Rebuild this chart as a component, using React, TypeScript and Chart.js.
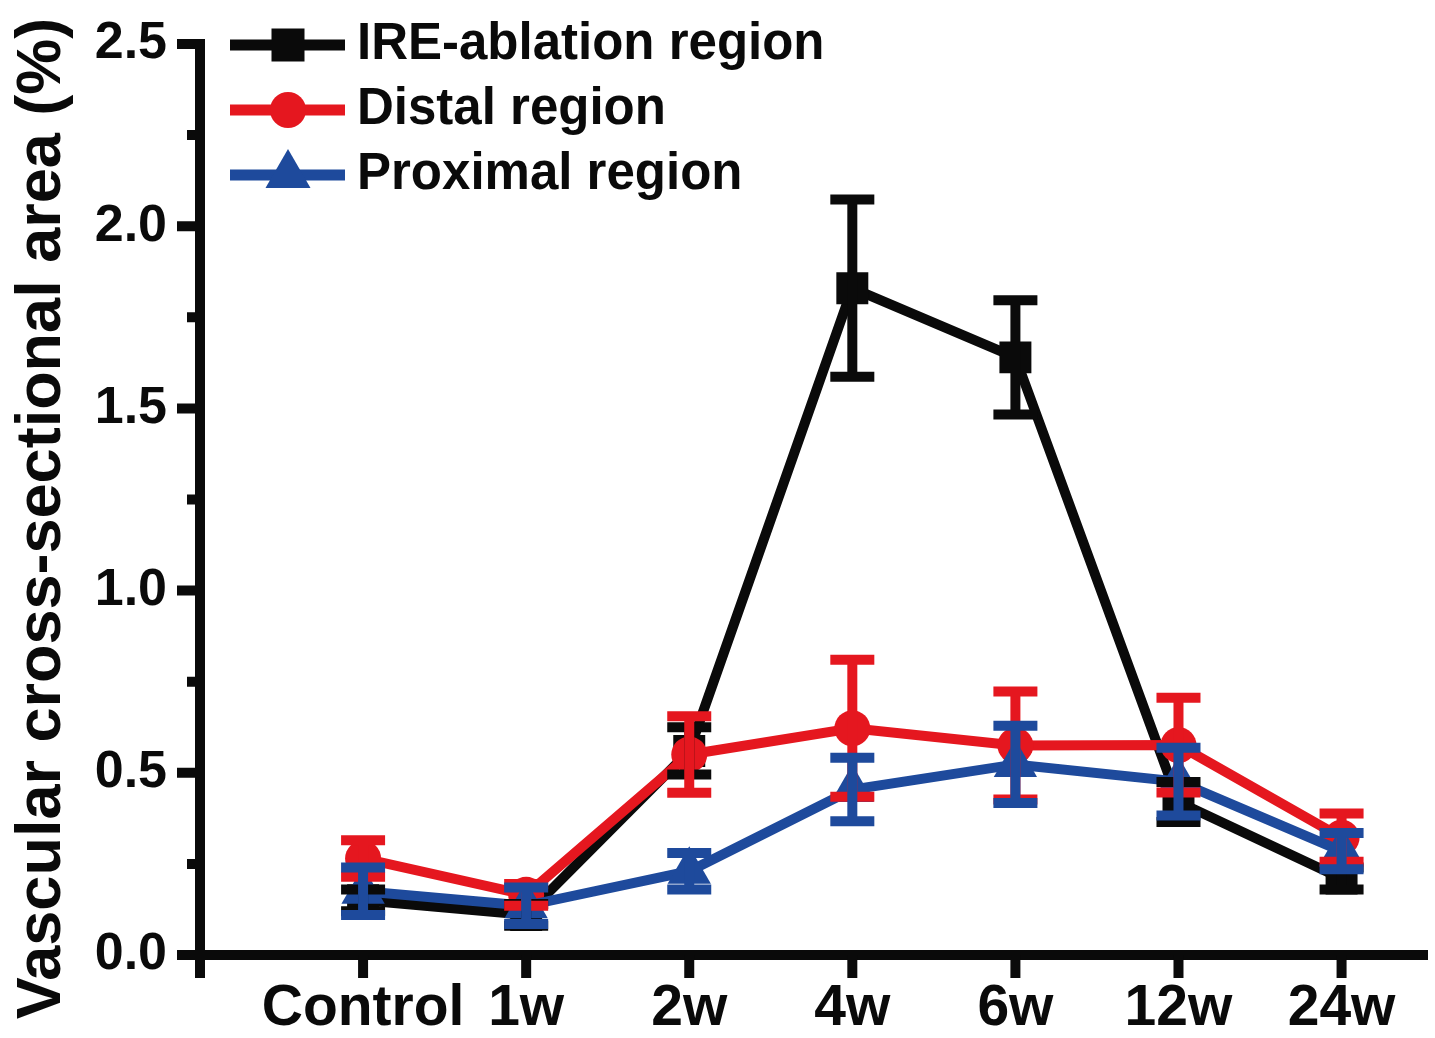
import React, { useEffect, useRef } from 'react';
import { Chart, registerables } from 'chart.js';

Chart.register(...registerables);

// ---------- data ----------
const categories = ['Control', '1w', '2w', '4w', '6w', '12w', '24w'];
const xTickLabels = ['', ...categories];

const seriesLabels = ['IRE-ablation region', 'Distal region', 'Proximal region'];

const ireValues = [0.15, 0.11, 0.56, 1.83, 1.64, 0.42, 0.21];
const ireErrors = [0.03, 0.03, 0.065, 0.243, 0.157, 0.055, 0.03];

const distalValues = [0.265, 0.165, 0.55, 0.622, 0.575, 0.576, 0.322];
const distalErrors = [0.05, 0.03, 0.105, 0.188, 0.148, 0.13, 0.066];

const proximalValues = [0.175, 0.135, 0.23, 0.454, 0.523, 0.476, 0.285];
const proximalErrors = [0.065, 0.05, 0.05, 0.087, 0.106, 0.093, 0.05];

const yMajorTicks = [0, 0.5, 1.0, 1.5, 2.0, 2.5];
const yMinorTicks = [0.25, 0.75, 1.25, 1.75, 2.25];
const yTitle = 'Vascular cross-sectional area (%)';

// ---------- styles ----------
const FONT = '"Liberation Sans", Arial, Helvetica, sans-serif';
const BLACK = '#0a0a0a';
const RED = '#e5171f';
const BLUE = '#1e4a9c';
const AXIS_W = 10;

function drawMarker(ctx: CanvasRenderingContext2D, style: string, x: number, y: number, color: string) {
  ctx.fillStyle = color;
  ctx.beginPath();
  if (style === 'rect') {
    ctx.rect(x - 16.5, y - 16.5, 33, 33);
  } else if (style === 'circle') {
    ctx.arc(x, y, 18, 0, Math.PI * 2);
  } else {
    const r = 26;
    ctx.moveTo(x, y - r);
    ctx.lineTo(x + r * Math.sin((2 * Math.PI) / 3), y - r * Math.cos((2 * Math.PI) / 3));
    ctx.lineTo(x + r * Math.sin((4 * Math.PI) / 3), y - r * Math.cos((4 * Math.PI) / 3));
    ctx.closePath();
  }
  ctx.fill();
}

const overlayPlugin = {
  id: 'overlay',
  afterDatasetsDraw(chart: any) {
    const { ctx } = chart;
    const xs = chart.scales.x;
    const ys = chart.scales.y;
    ctx.save();
    ctx.lineCap = 'butt';
    chart.data.datasets.forEach((ds: any) => {
      ctx.strokeStyle = ds.borderColor;
      ctx.lineWidth = 10;
      ds.data.forEach((p: any, i: number) => {
        const e = ds.errors[i];
        const px = xs.getPixelForValue(p.x);
        const top = ys.getPixelForValue(p.y + e);
        const bot = ys.getPixelForValue(p.y - e);
        ctx.beginPath();
        ctx.moveTo(px, top - 5);
        ctx.lineTo(px, bot + 5);
        ctx.moveTo(px - 22, top);
        ctx.lineTo(px + 22, top);
        ctx.moveTo(px - 22, bot);
        ctx.lineTo(px + 22, bot);
        ctx.stroke();
      });
    });
    ctx.restore();
  },
  afterDraw(chart: any) {
    const { ctx, chartArea } = chart;
    const xs = chart.scales.x;
    const ys = chart.scales.y;
    const L = chartArea.left;
    const B = chartArea.bottom;
    ctx.save();
    ctx.strokeStyle = BLACK;
    ctx.lineWidth = AXIS_W;
    ctx.lineCap = 'butt';
    // axis lines
    ctx.beginPath();
    ctx.moveTo(L, chartArea.top - AXIS_W / 2);
    ctx.lineTo(L, B);
    ctx.moveTo(L - AXIS_W / 2, B);
    ctx.lineTo(chartArea.right, B);
    ctx.stroke();
    // y ticks
    ctx.beginPath();
    yMajorTicks.forEach((v) => {
      const py = ys.getPixelForValue(v);
      ctx.moveTo(L - 23, py);
      ctx.lineTo(L, py);
    });
    yMinorTicks.forEach((v) => {
      const py = ys.getPixelForValue(v);
      ctx.moveTo(L - 13, py);
      ctx.lineTo(L, py);
    });
    // x ticks
    xTickLabels.forEach((_, i) => {
      const px = xs.getPixelForValue(i);
      ctx.moveTo(px, B);
      ctx.lineTo(px, B + 23);
    });
    ctx.stroke();

    // legend
    const rowY = [chartArea.top + 1, chartArea.top + 66, chartArea.top + 131];
    chart.data.datasets.forEach((ds: any, i: number) => {
      const y = rowY[i];
      ctx.strokeStyle = ds.borderColor;
      ctx.lineWidth = 11;
      ctx.beginPath();
      ctx.moveTo(L + 30, y);
      ctx.lineTo(L + 145, y);
      ctx.stroke();
      drawMarker(ctx, ds.pointStyle, L + 88, y, ds.borderColor);
      ctx.fillStyle = BLACK;
      ctx.font = `bold 51px ${FONT}`;
      ctx.textAlign = 'left';
      ctx.textBaseline = 'middle';
      ctx.fillText(ds.label, L + 157, y);
    });

    // y title
    ctx.translate(L - 140, (chartArea.top + chartArea.bottom) / 2 + 19);
    ctx.rotate(-Math.PI / 2);
    ctx.fillStyle = BLACK;
    ctx.font = `bold 63px ${FONT}`;
    ctx.textAlign = 'center';
    ctx.textBaseline = 'alphabetic';
    ctx.fillText(yTitle, 0, 0);
    ctx.restore();
  },
};

function toPoints(values: number[]) {
  return values.map((v, i) => ({ x: i + 1, y: v }));
}

export default function App() {
  const canvasRef = useRef<HTMLCanvasElement | null>(null);

  useEffect(() => {
    const canvas = canvasRef.current;
    if (!canvas) return;
    const chart = new Chart(canvas, {
      type: 'line',
      data: {
        datasets: [
          {
            label: seriesLabels[0],
            data: toPoints(ireValues),
            errors: ireErrors,
            borderColor: BLACK,
            backgroundColor: BLACK,
            borderWidth: 10,
            pointStyle: 'rect',
            pointRadius: 22.6,
            pointBorderWidth: 0,
            pointBackgroundColor: BLACK,
            order: 3,
          } as any,
          {
            label: seriesLabels[1],
            data: toPoints(distalValues),
            errors: distalErrors,
            borderColor: RED,
            backgroundColor: RED,
            borderWidth: 10,
            pointStyle: 'circle',
            pointRadius: 18,
            pointBorderWidth: 0,
            pointBackgroundColor: RED,
            order: 2,
          } as any,
          {
            label: seriesLabels[2],
            data: toPoints(proximalValues),
            errors: proximalErrors,
            borderColor: BLUE,
            backgroundColor: BLUE,
            borderWidth: 10,
            pointStyle: 'triangle',
            pointRadius: 25,
            pointBorderWidth: 0,
            pointBackgroundColor: BLUE,
            order: 1,
          } as any,
        ],
      },
      options: {
        animation: false,
        responsive: false,
        devicePixelRatio: 1,
        layout: { autoPadding: false, padding: { top: 44, right: 7, left: 0, bottom: 0 } },
        plugins: { legend: { display: false }, tooltip: { enabled: false } },
        scales: {
          x: {
            type: 'linear',
            min: 0,
            max: 7.53,
            afterBuildTicks: (s: any) => {
              s.ticks = xTickLabels.map((_, i) => ({ value: i }));
            },
            afterFit: (s: any) => {
              s.height = 83;
              s.paddingLeft = 0;
              s.paddingRight = 0;
            },
            ticks: {
              callback: (_v: any, i: number) => xTickLabels[i] ?? '',
              font: { family: FONT, size: 57, weight: 'bold' },
              color: BLACK,
              padding: 20,
              maxRotation: 0,
              autoSkip: false,
            },
            grid: { display: false, drawTicks: false },
            border: { display: false },
          },
          y: {
            type: 'linear',
            min: 0,
            max: 2.5,
            afterBuildTicks: (s: any) => {
              s.ticks = yMajorTicks.map((v) => ({ value: v }));
            },
            afterFit: (s: any) => {
              s.width = 200;
              s.paddingTop = 0;
              s.paddingBottom = 0;
            },
            ticks: {
              callback: (v: any) => Number(v).toFixed(1),
              font: { family: FONT, size: 52, weight: 'bold' },
              color: BLACK,
              padding: 33,
            },
            grid: { display: false, drawTicks: false },
            border: { display: false },
          },
        },
      } as any,
      plugins: [overlayPlugin],
    });
    return () => chart.destroy();
  }, []);

  return (
    <div style={{ position: 'absolute', left: 0, top: 0, width: 1435, height: 1038, background: '#fff' }}>
      <canvas ref={canvasRef} width={1435} height={1038} style={{ display: 'block', width: 1435, height: 1038 }} />
    </div>
  );
}
